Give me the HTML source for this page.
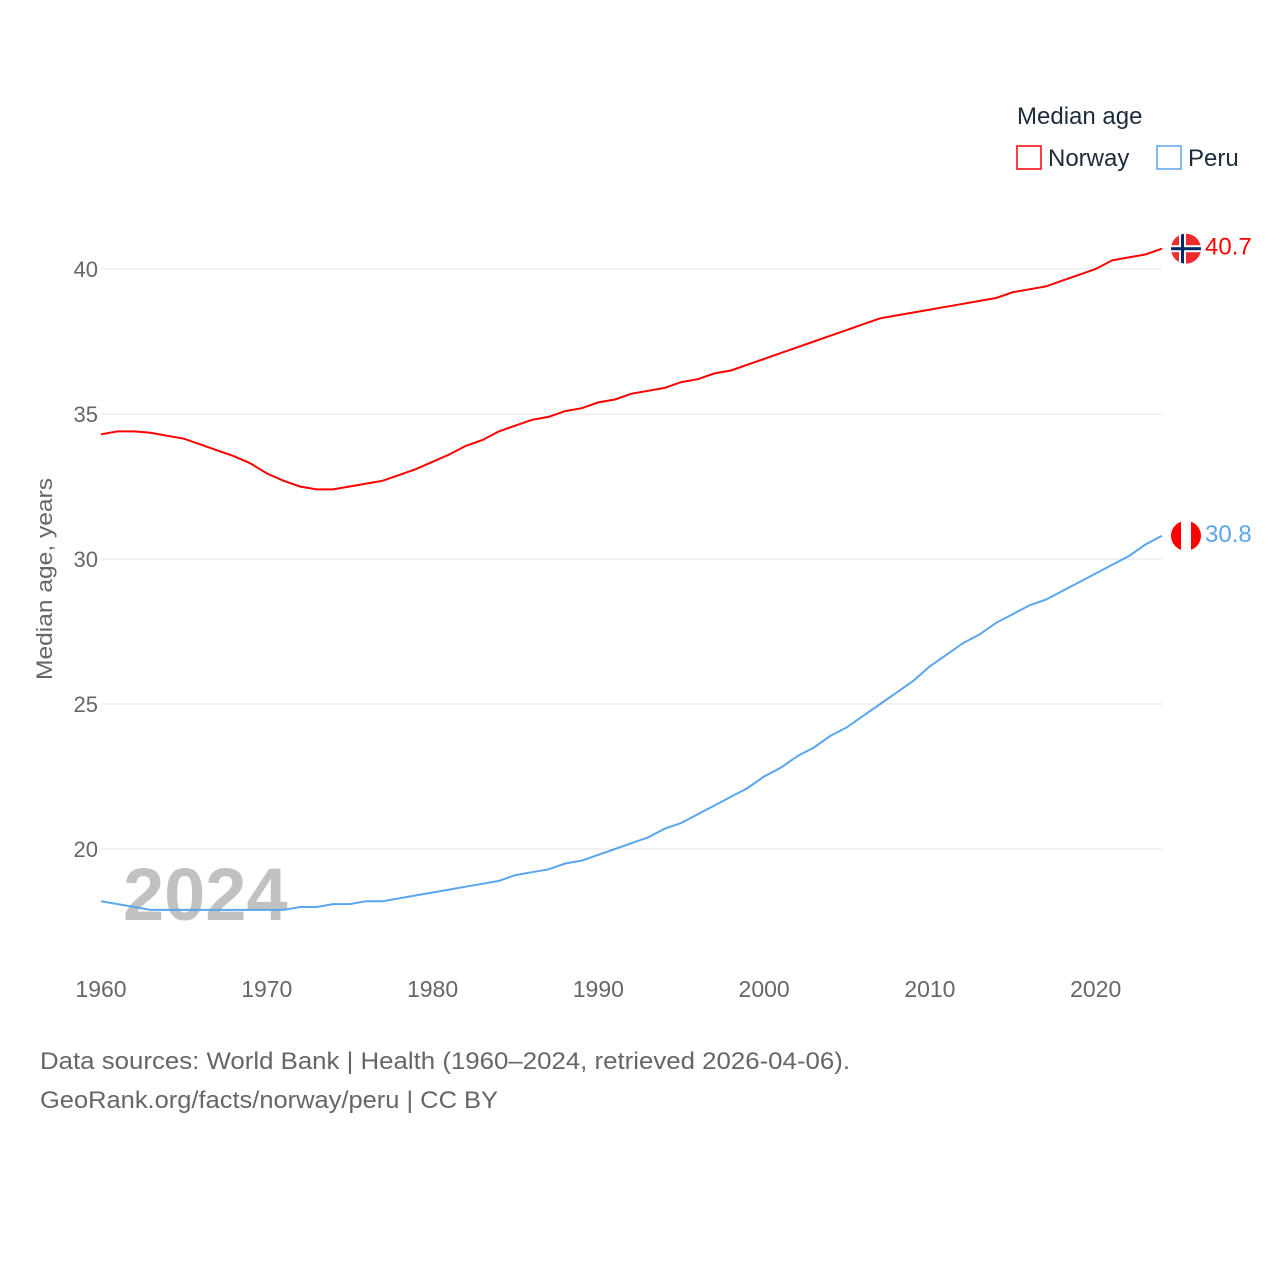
<!DOCTYPE html>
<html><head><meta charset="utf-8"><style>
body{margin:0;background:#fff;width:1280px;height:1280px;overflow:hidden;font-family:"Liberation Sans",sans-serif}
svg text{font-family:"Liberation Sans",sans-serif}
</style></head><body>
<svg id="chart" width="1280" height="1280">
<text x="1017" y="124" font-size="24" fill="#1d2b3a">Median age</text>
<g><rect x="1017" y="146" width="24" height="23" fill="none" stroke="#f00" stroke-width="1.5"/><text x="1048" y="166" font-size="24" fill="#1d2b3a">Norway</text></g>
<g><rect x="1157" y="146" width="24" height="23" fill="none" stroke="#5aa5ec" stroke-width="1.5"/><text x="1188" y="166" font-size="24" fill="#1d2b3a">Peru</text></g>
<text x="52" y="579" font-size="22" fill="#666" text-anchor="middle" textLength="202" lengthAdjust="spacingAndGlyphs" transform="rotate(-90 52 579)">Median age, years</text>
<g id="grid"></g>
<text x="123" y="920" font-size="74" font-weight="bold" fill="#bbb" opacity="0.9">2024</text>
<g id="series"></g>
<text x="40" y="1069" font-size="24" fill="#666" textLength="810" lengthAdjust="spacingAndGlyphs">Data sources: World Bank | Health (1960–2024, retrieved 2026-04-06).</text>
<text x="40" y="1108" font-size="24" fill="#666" textLength="458" lengthAdjust="spacingAndGlyphs">GeoRank.org/facts/norway/peru | CC BY</text>
</svg>
<script>
const years=[];for(let y=1960;y<=2024;y++)years.push(y);
const norway=[34.3,34.4,34.4,34.35,34.25,34.15,33.95,33.75,33.55,33.3,32.95,32.7,32.5,32.4,32.4,32.5,32.6,32.7,32.9,33.1,33.35,33.6,33.9,34.1,34.4,34.6,34.8,34.9,35.1,35.2,35.4,35.5,35.7,35.8,35.9,36.1,36.2,36.4,36.5,36.7,36.9,37.1,37.3,37.5,37.7,37.9,38.1,38.3,38.4,38.5,38.6,38.7,38.8,38.9,39.0,39.2,39.3,39.4,39.6,39.8,40.0,40.3,40.4,40.5,40.7];
const peru=[18.2,18.1,18.0,17.9,17.9,17.9,17.9,17.9,17.9,17.9,17.9,17.9,18.0,18.0,18.1,18.1,18.2,18.2,18.3,18.4,18.5,18.6,18.7,18.8,18.9,19.1,19.2,19.3,19.5,19.6,19.8,20.0,20.2,20.4,20.7,20.9,21.2,21.5,21.8,22.1,22.5,22.8,23.2,23.5,23.9,24.2,24.6,25.0,25.4,25.8,26.3,26.7,27.1,27.4,27.8,28.1,28.4,28.6,28.9,29.2,29.5,29.8,30.1,30.5,30.8];
const yTicks=[20,25,30,35,40];
const xTicks=[1960,1970,1980,1990,2000,2010,2020];
const X=y=>101+(y-1960)*(1162-101)/64;
const Y=v=>269+(40-v)*29;
const NS="http://www.w3.org/2000/svg";
function mk(tag,attrs,parent){const e=document.createElementNS(NS,tag);for(const k in attrs)e.setAttribute(k,attrs[k]);parent.appendChild(e);return e;}
const grid=document.getElementById('grid'),ser=document.getElementById('series');
yTicks.forEach(t=>{
 const l=mk('line',{x1:101,x2:1162,y1:Y(t),y2:Y(t),stroke:'#e6e6e6','stroke-width':1},grid);
 
 
 const tx=mk('text',{x:98,y:Y(t)+8,'font-size':22,fill:'#666','text-anchor':'end'},grid);tx.textContent=t;
 
 
});
xTicks.forEach(t=>{
 const tx=mk('text',{x:X(t),y:997,'font-size':23,fill:'#666','text-anchor':'middle'},grid);tx.textContent=t;
 
 
});
function line(vals,color,name){
 const d=vals.map((v,i)=>(i?'L':'M')+X(years[i]).toFixed(1)+','+Y(v).toFixed(1)).join('');
 const p=mk('path',{d:d,fill:'none',stroke:color,'stroke-width':2},ser);
 
 
 const last=vals[vals.length-1],yy=Y(last);
 const t=mk('text',{x:1205,y:yy+6,'font-size':24,fill:color},ser);t.textContent=last;
 
 
 return yy;
}
const ny=line(norway,'#f00','norway');
const py=line(peru,'#5aa5ec','peru');
const nf=mk('g',{},ser);


const cn=mk('clipPath',{id:'cn'},nf);mk('circle',{cx:1186,cy:ny,r:15},cn);
const ng=mk('g',{'clip-path':'url(#cn)'},nf);
mk('rect',{x:1171,y:ny-15,width:30,height:30,fill:'#ef2b2d'},ng);
mk('rect',{x:1179,y:ny-15,width:7,height:30,fill:'#fff'},ng);
mk('rect',{x:1171,y:ny-3.5,width:30,height:7,fill:'#fff'},ng);
mk('rect',{x:1181,y:ny-15,width:3,height:30,fill:'#002868'},ng);
mk('rect',{x:1171,y:ny-1.5,width:30,height:3,fill:'#002868'},ng);
const pf=mk('g',{},ser);


const cp=mk('clipPath',{id:'cp'},pf);mk('circle',{cx:1186,cy:py,r:15},cp);
const pg=mk('g',{'clip-path':'url(#cp)'},pf);
mk('rect',{x:1171,y:py-15,width:30,height:30,fill:'#fff'},pg);
mk('rect',{x:1171,y:py-15,width:10,height:30,fill:'#f00'},pg);
mk('rect',{x:1191,y:py-15,width:10,height:30,fill:'#f00'},pg);
</script>
</body></html>
